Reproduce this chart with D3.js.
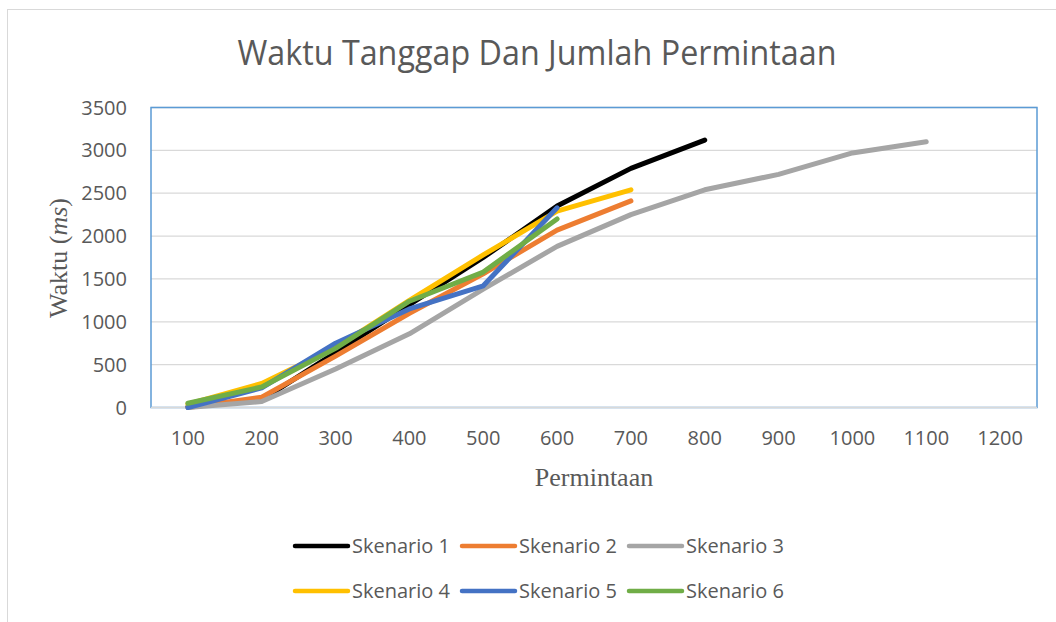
<!DOCTYPE html>
<html>
<head>
<meta charset="utf-8">
<script src="https://cdn.jsdelivr.net/npm/d3@7"></script>
<style>
  body { margin: 0; background: #fff; }
  svg { display: block; }
</style>
</head>
<body>
<svg id="chart"></svg>
<script>
// categories (jumlah permintaan)
var categories = [100, 200, 300, 400, 500, 600, 700, 800, 900, 1000, 1100, 1200];
var yTicks = [0, 500, 1000, 1500, 2000, 2500, 3000, 3500];

// waktu tanggap (ms) per skenario
var skenario1 = [10, 90, 640, 1200, 1750, 2350, 2790, 3120];
var skenario2 = [0, 120, 600, 1100, 1560, 2070, 2410];
var skenario3 = [0, 70, 450, 860, 1380, 1880, 2250, 2540, 2720, 2970, 3100];
var skenario4 = [40, 280, 700, 1250, 1780, 2290, 2540];
var skenario5 = [0, 230, 750, 1150, 1420, 2330];
var skenario6 = [50, 240, 690, 1240, 1580, 2200];

var seriesNames = ["Skenario 1", "Skenario 2", "Skenario 3", "Skenario 4", "Skenario 5", "Skenario 6"];
var seriesColors = ["#000000", "#ED7D31", "#A5A5A5", "#FFC000", "#4472C4", "#70AD47"];

var series = [skenario1, skenario2, skenario3, skenario4, skenario5, skenario6].map(function(vals, i) {
  return { name: seriesNames[i], color: seriesColors[i], values: vals };
});

var W = 1056, H = 622;
var plot = {left: 151, right: 1037, top: 107.5, bottom: 407.5};
var textColor = "#595959";
var sans = "'Open Sans', 'Liberation Sans', sans-serif";
var serif = "'Liberation Serif', 'DejaVu Serif', serif";

var svg = d3.select("#chart").attr("width", W).attr("height", H);

// outer chart border
svg.append("rect")
  .attr("x", 7.5).attr("y", 9.5)
  .attr("width", W + 20).attr("height", H + 20)
  .attr("fill", "#fff")
  .attr("stroke", "#D9D9D9")
  .attr("stroke-width", 1);

var x = d3.scaleBand().domain(categories).range([plot.left, plot.right]);
var y = d3.scaleLinear().domain([0, 3500]).range([plot.bottom, plot.top]);

function cx(c) { return x(c) + x.bandwidth() / 2; }

// gridlines
svg.append("g")
  .selectAll("line")
  .data(yTicks.slice(1))
  .enter().append("line")
    .attr("x1", plot.left).attr("x2", plot.right)
    .attr("y1", function(d) { return y(d); })
    .attr("y2", function(d) { return y(d); })
    .attr("stroke", "#D9D9D9")
    .attr("stroke-width", 1.3);

// plot area border (blue)
svg.append("rect")
  .attr("x", plot.left).attr("y", plot.top)
  .attr("width", plot.right - plot.left)
  .attr("height", plot.bottom - plot.top)
  .attr("fill", "none")
  .attr("stroke", "#5B9BD5")
  .attr("stroke-width", 1.5);

// x axis line
svg.append("line")
  .attr("x1", plot.left).attr("x2", plot.right)
  .attr("y1", y(0)).attr("y2", y(0))
  .attr("stroke", "#D9D9D9")
  .attr("stroke-width", 1.5);

// y tick labels
svg.append("g")
  .selectAll("text")
  .data(yTicks)
  .enter().append("text")
    .attr("x", 127)
    .attr("y", function(d) { return y(d); })
    .attr("dy", "0.35em")
    .attr("text-anchor", "end")
    .style("font-family", sans)
    .style("font-size", "20px")
    .style("fill", textColor)
    .text(function(d) { return d; });

// x tick labels
svg.append("g")
  .selectAll("text")
  .data(categories)
  .enter().append("text")
    .attr("x", function(d) { return cx(d); })
    .attr("y", 445)
    .attr("text-anchor", "middle")
    .style("font-family", sans)
    .style("font-size", "20px")
    .style("fill", textColor)
    .text(function(d) { return d; });

// title
svg.append("text")
  .attr("x", 537).attr("y", 65)
  .attr("text-anchor", "middle")
  .attr("textLength", 599)
  .attr("lengthAdjust", "spacingAndGlyphs")
  .style("font-family", sans)
  .style("font-size", "34px")
  .style("fill", textColor)
  .text("Waktu Tanggap Dan Jumlah Permintaan");

// axis titles
svg.append("text")
  .attr("x", 594).attr("y", 486)
  .attr("text-anchor", "middle")
  .style("font-family", serif)
  .style("font-size", "26px")
  .style("fill", textColor)
  .text("Permintaan");

var yTitle = svg.append("text")
  .attr("transform", "translate(67,258) rotate(-90)")
  .attr("text-anchor", "middle")
  .style("font-family", serif)
  .style("font-size", "26px")
  .style("fill", textColor);
yTitle.append("tspan").text("Waktu (");
yTitle.append("tspan").style("font-style", "italic").text("ms");
yTitle.append("tspan").text(")");

// lines
var line = d3.line()
  .x(function(d, i) { return cx(categories[i]); })
  .y(function(d) { return y(d); });

svg.append("g")
  .selectAll("path")
  .data(series)
  .enter().append("path")
    .attr("d", function(d) { return line(d.values); })
    .attr("fill", "none")
    .attr("stroke", function(d) { return d.color; })
    .attr("stroke-width", 5)
    .attr("stroke-linecap", "round")
    .attr("stroke-linejoin", "round");

// legend, 3 per row
var legend = svg.append("g")
  .selectAll("g")
  .data(series)
  .enter().append("g")
    .attr("transform", function(d, i) {
      return "translate(" + (293 + (i % 3) * 167) + "," + (546 + Math.floor(i / 3) * 45) + ")";
    });

legend.append("line")
  .attr("x1", 2).attr("x2", 55)
  .attr("y1", 0).attr("y2", 0)
  .attr("stroke", function(d) { return d.color; })
  .attr("stroke-width", 4.5)
  .attr("stroke-linecap", "round");

legend.append("text")
  .attr("x", 59).attr("y", 0)
  .attr("dy", "0.35em")
  .style("font-family", sans)
  .style("font-size", "20px")
  .style("fill", textColor)
  .text(function(d) { return d.name; });
</script>
</body>
</html>
